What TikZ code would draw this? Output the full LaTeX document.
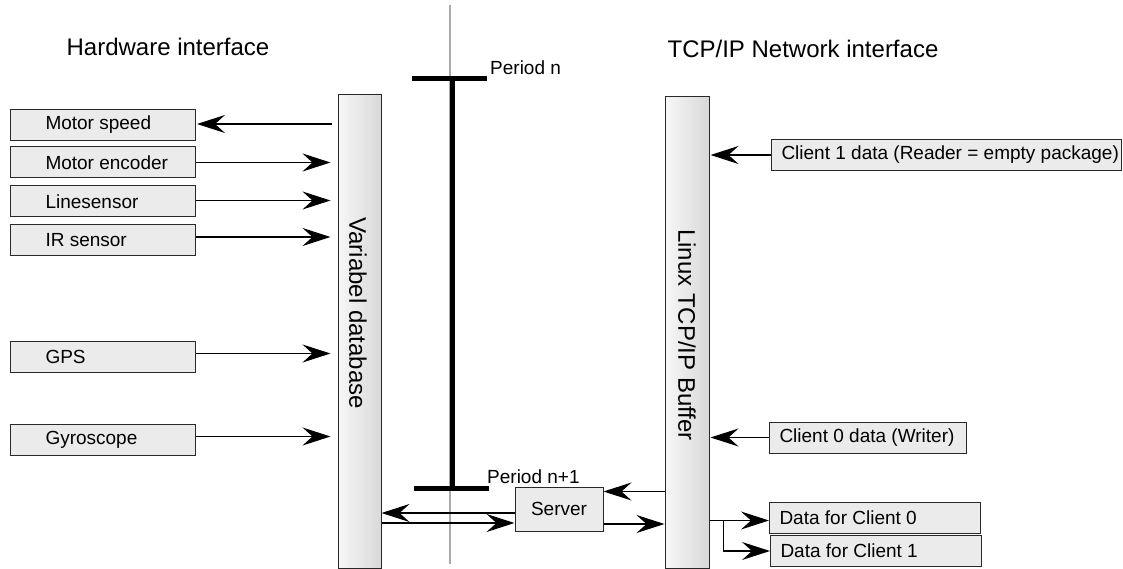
\documentclass[tikz,border=0pt]{standalone}
\usepackage{fontspec}
\setmainfont{Liberation Sans}
\usetikzlibrary{arrows.meta,calc}
\definecolor{boxfill}{RGB}{235,235,235}
\definecolor{boxline}{RGB}{40,40,40}
\definecolor{timeline}{RGB}{170,170,170}
\newcommand{\lbx}[2]{\makebox[#1][l]{#2}}
\begin{document}
\begin{tikzpicture}[x=1pt,y=-1pt,
  every node/.style={font=\fontsize{19}{22}\selectfont, inner sep=0pt},
  hwbox/.style={draw=boxline, line width=1pt, fill=boxfill, minimum width=185pt, minimum height=31pt, inner xsep=35pt, anchor=west},
  netbox/.style={draw=boxline, line width=1pt, fill=boxfill, minimum height=31pt, inner xsep=10pt, anchor=west},
  vbox/.style={draw=boxline, line width=1pt, left color=white!60!boxfill, right color=boxfill!92!black, minimum width=44pt, minimum height=471pt},
  bigtext/.style={font=\fontsize{24}{28}\selectfont},
  arr/.style={line width=1.1pt, -{Stealth[length=28pt,width=18pt,inset=10pt]}},
  bar/.style={line width=5pt, black}
]
\useasboundingbox (0,0) rectangle (1123,569);

% titles
\node[bigtext] (hwt) at (168,47) {Hardware interface};
\node[bigtext] (nwt) at (803,49) {TCP/IP Network interface};

% timeline
\coordinate (tltop) at (450,5);
\coordinate (tlbot) at (450,564);
\draw[timeline, line width=1.6pt] (tltop) -- (tlbot);
\coordinate (pnl) at (412,79);
\coordinate (pnr) at (487,79);
\coordinate (pnm) at (452,79);
\coordinate (pml) at (414,488);
\coordinate (pmr) at (489,488);
\coordinate (pmm) at (452,488);
\draw[bar] (pnl) -- (pnr);
\draw[bar] (pml) -- (pmr);
\draw[bar] (pnm) -- (pmm);
\node[anchor=west] (pn) at (490,68) {Period n};
\node[anchor=west] (pn1) at (487,477) {Period n+1};

% vertical boxes
\node[vbox, minimum width=43pt, minimum height=473pt] (vdb) at (359.5,331.5) {};
\node[rotate=-90, bigtext] (vdbt) at (358,313) {Variabel database};
\node[vbox] (buf) at (687,332.5) {};
\node[rotate=-90, bigtext] (buft) at (687,335) {Linux TCP/IP Buffer};

% hardware boxes
\node[hwbox] (ms) at (10,125) {\lbx{115pt}{Motor speed}};
\node[hwbox] (me) at (10,162.5) {\lbx{115pt}{Motor encoder}};
\node[hwbox] (ls) at (10,201.5) {\lbx{115pt}{Linesensor}};
\node[hwbox] (ir) at (10,240) {\lbx{115pt}{IR sensor}};
\node[hwbox] (gps) at (10,356.5) {\lbx{115pt}{GPS}};
\node[hwbox] (gyro) at (10,439.5) {\lbx{115pt}{Gyroscope}};

\draw[arr] ($(vdb.west |- ms.east)+(-6,-1)$) -- ($(ms.east)+(1,-1)$);
\draw[arr] (me.east) -- ($(vdb.west |- me.east)+(-7,0)$);
\draw[arr] ($(ls.east)+(0,-1)$) -- ($(vdb.west |- ls.east)+(-7,-1)$);
\draw[arr] ($(ir.east)+(0,-3)$) -- ($(vdb.west |- ir.east)+(-7,-3)$);
\draw[arr] ($(gps.east)+(0,-3)$) -- ($(vdb.west |- gps.east)+(-7,-3)$);
\draw[arr] ($(gyro.east)+(0,-3)$) -- ($(vdb.west |- gyro.east)+(-7,-3)$);

% server
\node[draw=boxline, line width=1pt, fill=boxfill, minimum width=88pt, minimum height=44pt] (srv) at (559,509) {Server};
\draw[arr] ($(buf.west |- srv.north)+(0,5)$) -- ($(srv.north east)+(0,5)$);
\draw[arr] ($(srv.west)+(0,4)$) -- ($(vdb.east |- srv.west)+(0,4)$);
\draw[arr] ($(vdb.east |- srv.west)+(0,14)$) -- ($(srv.west)+(0,14)$);
\draw[arr] ($(srv.east)+(0,15)$) -- ($(buf.west |- srv.east)+(0,15)$);

% network boxes
\node[netbox] (c1) at (771,155) {\lbx{330pt}{Client 1 data (Reader = empty package)}};
\node[netbox] (c0) at (769,437.5) {\lbx{177pt}{Client 0 data (Writer)}};
\node[netbox] (d0) at (769,517.5) {\lbx{191pt}{Data for Client 0}};
\node[netbox] (d1) at (770,551) {\lbx{191pt}{Data for Client 1}};

\draw[arr] (c1.west) -- ($(buf.east |- c1.west)+(1,0)$);
\draw[arr] (c0.west) -- ($(buf.east |- c0.west)+(1,0)$);
\draw[arr] ($(buf.east |- d0.west)+(0,3)$) -- ($(d0.west)+(0,3)$);
\coordinate (split) at ($(buf.east |- d0.west)+(14,3)$);
\draw[arr] (split) |- (d1.west);
\end{tikzpicture}
\end{document}
